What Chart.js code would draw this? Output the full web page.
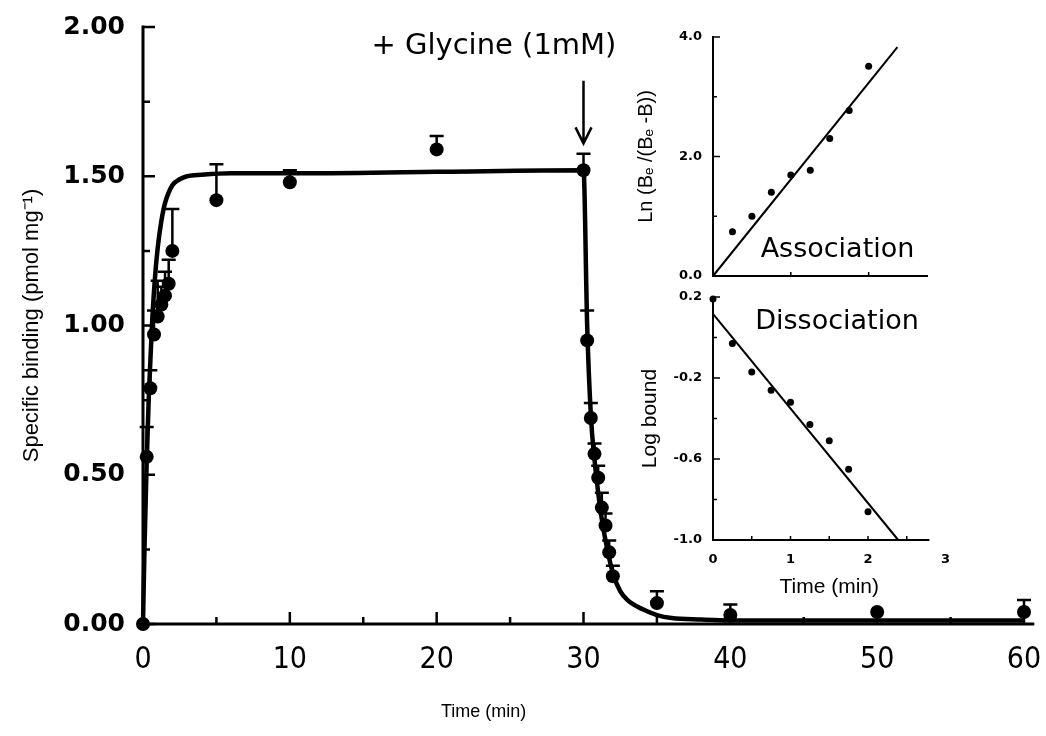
<!DOCTYPE html>
<html lang="en">
<head>
<meta charset="UTF-8">
<title>Specific binding vs time, + Glycine</title>
<style>
  body { margin: 0; background: #fff; }
  #wrap { position: relative; width: 1046px; height: 736px; }
  #mainChart { position: absolute; left: 0; top: 0; }
  #assocChart { position: absolute; left: 600px; top: 20px; }
  #dissChart { position: absolute; left: 600px; top: 280px; }
</style>
</head>
<body>
<div id="wrap">
  <canvas id="mainChart" width="1046" height="736"></canvas>
  <canvas id="assocChart" width="340" height="280"></canvas>
  <canvas id="dissChart" width="360" height="320"></canvas>
</div>

<script src="https://cdn.jsdelivr.net/npm/chart.js"></script>
<script>
// ---- main plot: specific binding (pmol/mg) vs time (min)
const mainTime  = [0, 0.25, 0.5, 0.75, 1, 1.25, 1.5, 1.75, 2, 5, 10, 20, 30,
                   30.25, 30.5, 30.75, 31, 31.25, 31.5, 31.75, 32, 35, 40, 50, 60];
const mainBound = [0, 0.56, 0.79, 0.97, 1.03, 1.07, 1.10, 1.14, 1.25, 1.42, 1.48, 1.59, 1.52,
                   0.95, 0.69, 0.57, 0.49, 0.39, 0.33, 0.24, 0.16, 0.07, 0.03, 0.04, 0.04];
const mainErr   = [0, 0.10, 0.06, 0.08, 0.12, 0.06, 0.08, 0.08, 0.14, 0.12, 0.04, 0.045, 0.055,
                   0.10, 0.05, 0.035, 0.04, 0.05, 0.04, 0.04, 0.035, 0.04, 0.035, 0, 0.04];

// fitted curve
const fitTime  = [0, 0.1, 0.25, 0.4, 0.6, 0.8, 1, 1.25, 1.5, 2, 2.5, 3, 4, 6, 10, 20, 30,
                  30.25, 30.5, 30.75, 31, 31.25, 31.5, 31.75, 32, 32.5, 33, 34, 35, 36, 38, 40, 60];
const fitBound = [0, 0.25, 0.54, 0.77, 0.99, 1.15, 1.26, 1.35, 1.41, 1.47, 1.49, 1.50, 1.505, 1.51, 1.51, 1.515, 1.52,
                  1.00, 0.70, 0.55, 0.44, 0.35, 0.28, 0.22, 0.17, 0.11, 0.08, 0.05, 0.03, 0.02, 0.015, 0.012, 0.012];

const mainXTicks = [0, 10, 20, 30, 40, 50, 60];
const mainXMinor = [5, 15, 25, 35, 45, 55];
const mainYTicks = [0, 0.5, 1.0, 1.5, 2.0];
const mainYMinor = [0.25, 0.75, 1.25, 1.75];

// ---- inset: association
const assocTime = [0.25, 0.5, 0.75, 1, 1.25, 1.5, 1.75, 2];
const assocLn   = [0.74, 1.00, 1.40, 1.69, 1.77, 2.30, 2.77, 3.51];
const assocFitTime = [0, 2.37];
const assocFitLn   = [0, 3.83];
const assocYTicks = [0, 2, 4];

// ---- inset: dissociation
const dissTime = [0, 0.25, 0.5, 0.75, 1, 1.25, 1.5, 1.75, 2];
const dissLog  = [0.19, -0.03, -0.17, -0.26, -0.32, -0.43, -0.51, -0.65, -0.86];
const dissFitTime = [0, 2.39];
const dissFitLog  = [0.117, -1.0];
const dissXTicks = [0, 1, 2, 3];
const dissYTicks = [-1.0, -0.6, -0.2, 0.2];

const pts = (xs, ys) => xs.map((v, i) => ({ x: v, y: ys[i] }));

// axis lines with inward ticks
const framePlugin = {
  id: 'frame',
  beforeDatasetsDraw(chart, args, o) {
    const { ctx, scales: { x, y } } = chart;
    const x0 = x.getPixelForValue(o.xFrom), x1 = x.getPixelForValue(o.xTo);
    const y0 = y.getPixelForValue(o.yFrom), y1 = y.getPixelForValue(o.yTo);
    ctx.save();
    ctx.strokeStyle = '#000';
    ctx.lineCap = 'square';
    ctx.lineWidth = o.width;
    ctx.beginPath();
    ctx.moveTo(x1, y0); ctx.lineTo(x0, y0); ctx.lineTo(x0, y1);
    ctx.stroke();
    ctx.lineCap = 'butt';
    ctx.lineWidth = o.tickWidth;
    ctx.beginPath();
    (o.xMajor || []).forEach(v => { const p = x.getPixelForValue(v); ctx.moveTo(p, y0); ctx.lineTo(p, y0 - o.major); });
    (o.xMinor || []).forEach(v => { const p = x.getPixelForValue(v); ctx.moveTo(p, y0); ctx.lineTo(p, y0 - o.minor); });
    (o.yMajor || []).forEach(v => { const p = y.getPixelForValue(v); ctx.moveTo(x0, p); ctx.lineTo(x0 + o.major, p); });
    (o.yMinor || []).forEach(v => { const p = y.getPixelForValue(v); ctx.moveTo(x0, p); ctx.lineTo(x0 + o.minor, p); });
    ctx.stroke();
    ctx.restore();
  }
};

// upward error bars with a cap
const errorBarPlugin = {
  id: 'errorBars',
  afterDatasetsDraw(chart, args, o) {
    if (!o.errors) return;
    const { ctx, scales: { x, y } } = chart;
    ctx.save();
    ctx.strokeStyle = '#000';
    ctx.lineWidth = o.width;
    ctx.beginPath();
    o.times.forEach((t, i) => {
      const e = o.errors[i];
      if (!e) return;
      const px = x.getPixelForValue(t);
      const top = y.getPixelForValue(o.means[i] + e);
      ctx.moveTo(px, y.getPixelForValue(o.means[i]));
      ctx.lineTo(px, top);
      ctx.moveTo(px - o.cap, top);
      ctx.lineTo(px + o.cap, top);
    });
    ctx.stroke();
    ctx.restore();
  }
};

// free text and the arrow
const notesPlugin = {
  id: 'notes',
  afterDraw(chart, args, o) {
    const { ctx, scales: { x, y } } = chart;
    ctx.save();
    ctx.fillStyle = '#000';
    ctx.textAlign = 'center';
    ctx.textBaseline = 'middle';
    (o.items || []).forEach(n => {
      ctx.font = n.font;
      ctx.fillText(n.text, x.getPixelForValue(n.x), y.getPixelForValue(n.y));
    });
    if (o.arrow) {
      const a = o.arrow;
      const px = x.getPixelForValue(a.x);
      const pTop = y.getPixelForValue(a.yTop), pTip = y.getPixelForValue(a.yTip);
      ctx.strokeStyle = '#000';
      ctx.lineWidth = 2.5;
      ctx.beginPath();
      ctx.moveTo(px, pTop); ctx.lineTo(px, pTip);
      ctx.moveTo(px - 8, pTip - 16); ctx.lineTo(px, pTip); ctx.lineTo(px + 8, pTip - 16);
      ctx.stroke();
    }
    ctx.restore();
  }
};

// hidden grid; the tick length only spaces the labels off the axis
const gridGap = len => ({ display: false, drawTicks: true, tickLength: len });

// ---------- main chart
new Chart(document.getElementById('mainChart'), {
  type: 'scatter',
  data: {
    datasets: [
      {
        data: pts(fitTime, fitBound),
        showLine: true,
        borderColor: '#000',
        borderWidth: 4.5,
        pointRadius: 0,
        cubicInterpolationMode: 'monotone',
        clip: false
      },
      {
        data: pts(mainTime, mainBound),
        pointRadius: 7,
        backgroundColor: '#000',
        borderWidth: 0,
        clip: false
      }
    ]
  },
  options: {
    responsive: false,
    animation: false,
    layout: { padding: { left: 0, top: 27, right: 22, bottom: 0 } },
    plugins: {
      legend: { display: false },
      tooltip: { enabled: false },
      frame: {
        xFrom: 0, xTo: 60.6, yFrom: 0, yTo: 2,
        xMajor: mainXTicks, xMinor: mainXMinor, yMajor: mainYTicks, yMinor: mainYMinor,
        width: 3, tickWidth: 2.5, major: 12, minor: 7
      },
      errorBars: { times: mainTime, means: mainBound, errors: mainErr, width: 2.5, cap: 7 },
      notes: {
        items: [
          { text: '+ Glycine (1mM)', x: 23.9, y: 1.935, font: '29px "DejaVu Sans"' },
          { text: 'Time (min)', x: 23.2, y: -0.295, font: '18px "Liberation Sans"' }
        ],
        arrow: { x: 30, yTop: 1.82, yTip: 1.61 }
      }
    },
    scales: {
      x: {
        type: 'linear', min: 0, max: 60,
        grid: gridGap(18),
        border: { display: false },
        afterBuildTicks: s => { s.ticks = mainXTicks.map(v => ({ value: v })); },
        afterFit: s => { s.height = 112; },
        ticks: {
          color: '#000', padding: 0, maxRotation: 0, autoSkip: false,
          font: { family: "'Liberation Sans Narrow', 'DejaVu Sans Condensed', 'Liberation Sans'", size: 30 },
          callback: v => String(v)
        }
      },
      y: {
        type: 'linear', min: 0, max: 2,
        grid: gridGap(18),
        border: { display: false },
        afterBuildTicks: s => { s.ticks = mainYTicks.map(v => ({ value: v })); },
        afterFit: s => { s.width = 143; },
        ticks: {
          color: '#000', padding: 0, autoSkip: false,
          font: { family: 'DejaVu Sans', size: 25, weight: 'bold' },
          callback: v => Number(v).toFixed(2)
        },
        title: {
          display: true,
          text: 'Specific binding (pmol mg\u207B\u00B9)',
          color: '#000',
          font: { family: 'Liberation Sans', size: 22 },
          padding: { top: 19, bottom: 0 }
        }
      }
    }
  },
  plugins: [framePlugin, errorBarPlugin, notesPlugin]
});

// ---------- inset: association
new Chart(document.getElementById('assocChart'), {
  type: 'scatter',
  data: {
    datasets: [
      { data: pts(assocFitTime, assocFitLn), showLine: true, borderColor: '#000', borderWidth: 2, pointRadius: 0, clip: false },
      { data: pts(assocTime, assocLn), pointRadius: 3.5, backgroundColor: '#000', borderWidth: 0, clip: false }
    ]
  },
  options: {
    responsive: false,
    animation: false,
    layout: { padding: { left: 0, top: 17, right: 13, bottom: 0 } },
    plugins: {
      legend: { display: false },
      tooltip: { enabled: false },
      frame: {
        xFrom: 0, xTo: 2.75, yFrom: 0, yTo: 4,
        xMinor: [1, 2], yMajor: assocYTicks, yMinor: [1, 3],
        width: 2, tickWidth: 1.5, major: 7, minor: 4
      },
      notes: {
        items: [{ text: 'Association', x: 1.6, y: 0.435, font: '27px "DejaVu Sans"' }]
      }
    },
    scales: {
      x: {
        type: 'linear', min: 0, max: 2.75,
        grid: gridGap(0),
        border: { display: false },
        ticks: { display: false },
        afterFit: s => { s.height = 24; }
      },
      y: {
        type: 'linear', min: 0, max: 4,
        grid: gridGap(11),
        border: { display: false },
        afterBuildTicks: s => { s.ticks = assocYTicks.map(v => ({ value: v })); },
        afterFit: s => { s.width = 113; },
        ticks: {
          color: '#000', padding: 0, autoSkip: false,
          font: { family: 'DejaVu Sans', size: 13, weight: 'bold' },
          callback: v => Number(v).toFixed(1)
        },
        title: {
          display: true,
          text: 'Ln (B\u2091 /(B\u2091 -B))',
          color: '#000',
          font: { family: 'Liberation Sans', size: 20 },
          padding: { top: 34, bottom: 0 }
        }
      }
    }
  },
  plugins: [framePlugin, notesPlugin]
});

// ---------- inset: dissociation
new Chart(document.getElementById('dissChart'), {
  type: 'scatter',
  data: {
    datasets: [
      { data: pts(dissFitTime, dissFitLog), showLine: true, borderColor: '#000', borderWidth: 2, pointRadius: 0, clip: false },
      { data: pts(dissTime, dissLog), pointRadius: 3.5, backgroundColor: '#000', borderWidth: 0, clip: false }
    ]
  },
  options: {
    responsive: false,
    animation: false,
    layout: { padding: { left: 0, top: 17, right: 14.5, bottom: 0 } },
    plugins: {
      legend: { display: false },
      tooltip: { enabled: false },
      frame: {
        xFrom: 0, xTo: 2.78, yFrom: -1, yTo: 0.2,
        xMinor: [0.5, 1, 1.5, 2, 2.5], yMajor: dissYTicks, yMinor: [-0.8, -0.4, 0],
        width: 2, tickWidth: 1.5, major: 7, minor: 4
      },
      notes: {
        items: [{ text: 'Dissociation', x: 1.6, y: 0.077, font: '27px "DejaVu Sans"' }]
      }
    },
    scales: {
      x: {
        type: 'linear', min: 0, max: 3,
        grid: gridGap(12),
        border: { display: false },
        afterBuildTicks: s => { s.ticks = dissXTicks.map(v => ({ value: v })); },
        afterFit: s => { s.height = 60; },
        ticks: {
          color: '#000', padding: 0, maxRotation: 0, autoSkip: false,
          font: { family: 'DejaVu Sans', size: 13, weight: 'bold' },
          callback: v => String(v)
        },
        title: {
          display: true,
          text: 'Time (min)',
          color: '#000',
          font: { family: 'Liberation Sans', size: 21 },
          padding: { top: 0, bottom: 0 }
        }
      },
      y: {
        type: 'linear', min: -1, max: 0.2,
        grid: gridGap(11),
        border: { display: false },
        afterBuildTicks: s => { s.ticks = dissYTicks.map(v => ({ value: v })); },
        afterFit: s => { s.width = 113; },
        ticks: {
          color: '#000', padding: 0, autoSkip: false,
          font: { family: 'DejaVu Sans', size: 13, weight: 'bold' },
          callback: v => Number(v).toFixed(1)
        },
        title: {
          display: true,
          text: 'Log bound',
          color: '#000',
          font: { family: 'Liberation Sans', size: 21 },
          padding: { top: 38, bottom: 0 }
        }
      }
    }
  },
  plugins: [framePlugin, notesPlugin]
});
</script>
</body>
</html>
